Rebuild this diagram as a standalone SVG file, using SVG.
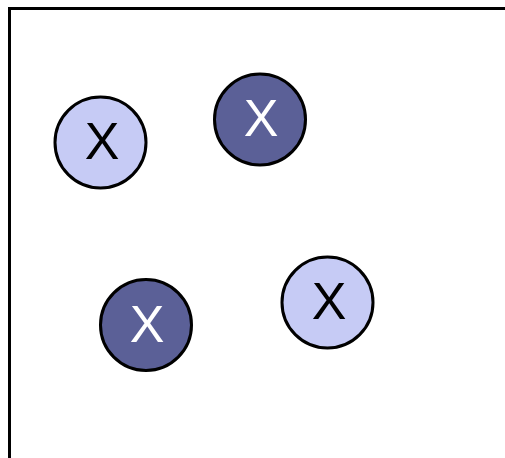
<svg xmlns="http://www.w3.org/2000/svg" width="505" height="458" viewBox="0 0 505 458">
<style>
.frame{fill:none;stroke:#000;stroke-width:3}
.light{fill:#c6cbf5;stroke:#000;stroke-width:3}
.dark{fill:#5b6097;stroke:#000;stroke-width:3}
.tl{font-family:"Liberation Sans",Arial,sans-serif;font-size:52px;fill:#000;text-anchor:middle}
.td{font-family:"Liberation Sans",Arial,sans-serif;font-size:52px;fill:#fff;text-anchor:middle}
</style>
<rect width="505" height="458" fill="#fff"/>
<path class="frame" d="M9.5,458 V8.5 H505"/>
<g id="n1"><circle class="light" cx="100.5" cy="142.5" r="45.5"/><text class="tl" x="102" y="159">X</text></g>
<g id="n2"><circle class="dark" cx="260" cy="119.5" r="45.5"/><text class="td" x="261" y="136">X</text></g>
<g id="n3"><circle class="dark" cx="146" cy="325" r="45.5"/><text class="td" x="147" y="342">X</text></g>
<g id="n4"><circle class="light" cx="327.5" cy="302.5" r="45.5"/><text class="tl" x="329" y="319">X</text></g>
<g id="connectors"/>
</svg>
